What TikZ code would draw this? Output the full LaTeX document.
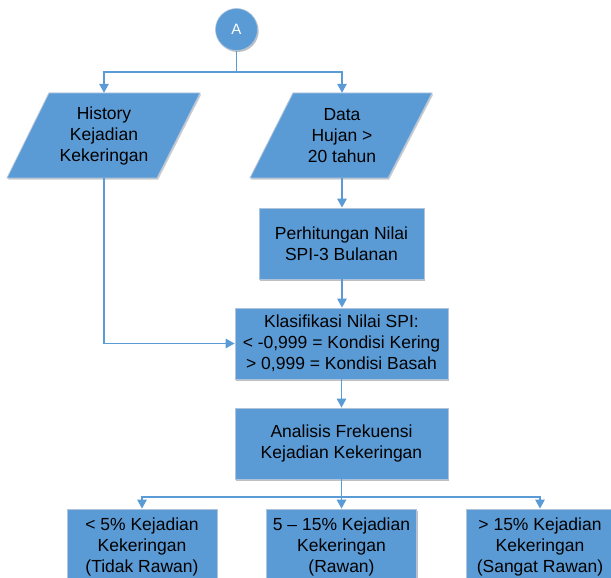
\documentclass[tikz,border=0pt]{standalone}
\usepackage{fontspec}
\setmainfont{Liberation Sans}
\usetikzlibrary{arrows.meta,shadows}
\definecolor{boxblue}{RGB}{91,155,213}
\definecolor{boxedge}{RGB}{175,195,220}
\definecolor{lineblue}{RGB}{91,155,213}
\begin{document}
\begin{tikzpicture}[x=1pt,y=-1pt,
  txt/.style={font=\fontsize{17.5}{21}\selectfont, align=center, text=black},
  procbox/.style={txt, rectangle, fill=boxblue, draw=boxedge, line width=0.8pt,
    drop shadow={shadow xshift=1.2pt, shadow yshift=-1.5pt, opacity=0.25, fill=black},
    inner sep=0pt},
  iobox/.style={txt, rectangle, inner sep=0pt, minimum width=150pt, minimum height=85pt},
  paraedge/.style={fill=boxblue, draw=boxedge, line width=0.8pt},
  paraShadow/.style={fill=black, opacity=0.2},
  conn/.style={draw=lineblue, line width=1.5pt},
  arr/.style={conn, -{Triangle[length=9pt,width=9.5pt]}},
]
\useasboundingbox (0,0) rectangle (611,578);
\clip (0,0) rectangle (611,578);

% connector A
\node[circle, fill=boxblue, draw=boxedge, line width=0.6pt, minimum size=42pt, inner sep=0pt,
  drop shadow={shadow xshift=1.2pt, shadow yshift=-1.5pt, opacity=0.25, fill=black},
  text=white, font=\fontsize{15}{18}\selectfont] (A) at (236.5,29.5) {A};

% parallelograms
\fill[paraShadow] (50.2,94.5) -- (201.2,94.5) -- (158.2,179.5) -- (8.2,179.5) -- cycle;
\path[paraedge] (49,93) -- (200,93) -- (157,178) -- (7,178) -- cycle;
\node[iobox] (hist) at (104,135.5) {History\\Kejadian\\Kekeringan};

\fill[paraShadow] (294.2,94.5) -- (433.2,94.5) -- (389.2,179.5) -- (251.2,179.5) -- cycle;
\path[paraedge] (293,93) -- (432,93) -- (388,178) -- (250,178) -- cycle;
\node[iobox, minimum width=139pt] (data) at (342,135.5) {Data\\Hujan >\\20 tahun};

% process boxes
\node[procbox, minimum width=165pt, minimum height=71pt] (perh) at (341.5,243.5)
  {Perhitungan Nilai\\SPI-3 Bulanan};
\node[procbox, minimum width=213pt, minimum height=71pt] (klas) at (341.5,343.5)
  {Klasifikasi Nilai SPI:\\< -0,999 = Kondisi Kering\\> 0,999 = Kondisi Basah};
\node[procbox, minimum width=213pt, minimum height=71pt] (ana) at (341.5,443.5)
  {Analisis Frekuensi\\Kejadian Kekeringan};

\node[procbox, minimum width=150pt, minimum height=76pt] (b1) at (142,547)
  {< 5\% Kejadian\\Kekeringan\\(Tidak Rawan)};
\node[procbox, minimum width=150pt, minimum height=76pt] (b2) at (341.5,547)
  {5 – 15\% Kejadian\\Kekeringan\\(Rawan)};
\node[procbox, minimum width=148pt, minimum height=76pt] (b3) at (540,547)
  {> 15\% Kejadian\\Kekeringan\\(Sangat Rawan)};

% connectors
\draw[conn] (A.south) -- (236.5,72) coordinate (s1);
\draw[arr] (s1) -| (hist.north);
\draw[arr] (s1) -| (data.north);
\draw[arr] (data.south) -- (perh.north -| data.south);
\draw[arr] (perh.south -| data.south) -- (klas.north -| data.south);
\draw[arr] (hist.south) |- (klas.west);
\draw[arr] (klas.south) -- (ana.north);
\draw[conn] (ana.south) -- (341.5,497) coordinate (s2);
\draw[arr] (s2) -| (b1.north);
\draw[arr] (s2) -- (b2.north);
\draw[arr] (s2) -| (b3.north);
\end{tikzpicture}
\end{document}
